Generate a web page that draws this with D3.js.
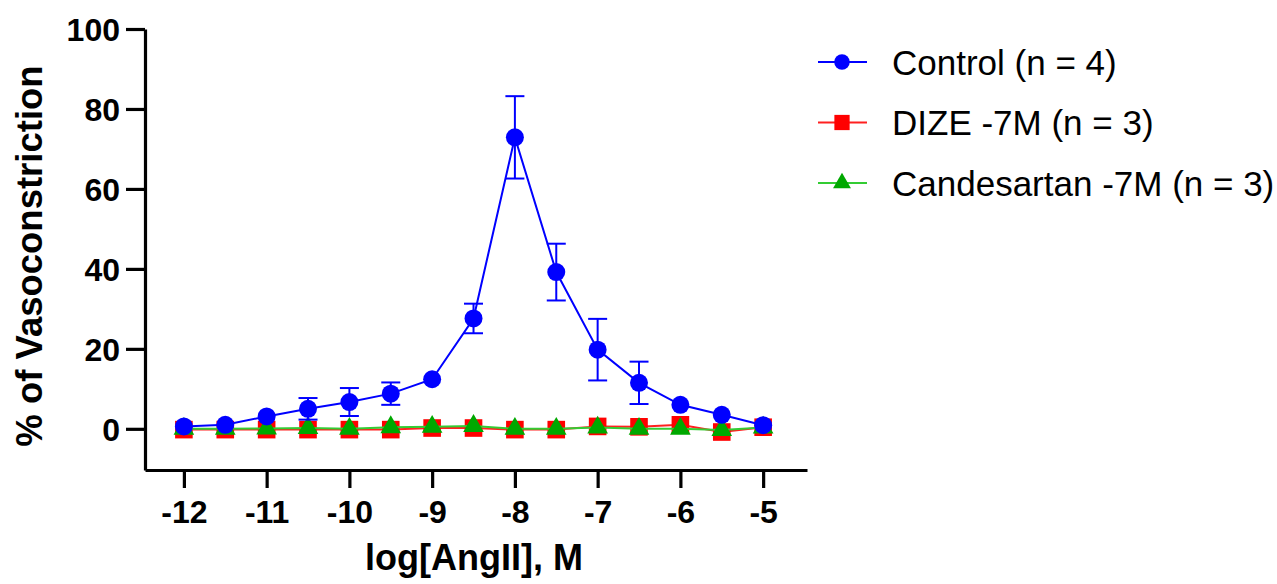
<!DOCTYPE html>
<html>
<head>
<meta charset="utf-8">
<script src="https://cdn.jsdelivr.net/npm/d3@7"></script>
<style>
  body { margin: 0; background: #fff; }
  svg { display: block; font-family: "Liberation Sans", Arial, sans-serif; }
</style>
</head>
<body>
<div id="chart"></div>
<script>
// log[AngII] concentrations
const doses = [-12, -11.5, -11, -10.5, -10, -9.5, -9, -8.5, -8, -7.5, -7, -6.5, -6, -5.5, -5];

const controlMean = [0.6, 1.0, 3.1, 5.0, 6.7, 8.8, 12.4, 27.6, 72.9, 39.2, 19.8, 11.5, 6.0, 3.5, 0.9];
const controlSem  = [0.4, 0.5, 0.6, 2.7, 3.5, 2.8, 0.8, 3.7, 10.3, 7.1, 7.7, 5.3, 0.6, 0.4, 0.3];

const dizeMean = [-0.2, -0.2, -0.2, -0.2, -0.2, -0.2, 0.2, 0.2, -0.2, -0.2, 0.6, 0.5, 1.0, -0.8, 0.4];
const candMean = [0.0, 0.0, 0.1, 0.2, 0.0, 0.4, 0.5, 0.7, 0.0, 0.0, 0.3, 0.0, 0.0, -0.3, 0.3];

const xTicks = [-12, -11, -10, -9, -8, -7, -6, -5];
const yTicks = [0, 20, 40, 60, 80, 100];

const seriesNames = ['Control (n = 4)', 'DIZE -7M (n = 3)', 'Candesartan -7M (n = 3)'];

const width = 1277, height = 584;

const svg = d3.select('#chart').append('svg')
    .attr('width', width)
    .attr('height', height);

const x = d3.scaleLinear().domain([-12.47, -4.47]).range([145, 807]);
const y = d3.scaleLinear().domain([-10.3, 100]).range([470, 29]);

// axes (hyphen minus like the original, not the d3 unicode minus)
const xAxis = svg.append('g')
    .attr('transform', `translate(0,${y(-10.3)})`)
    .call(d3.axisBottom(x).tickValues(xTicks).tickSize(18).tickPadding(12).tickSizeOuter(0)
        .tickFormat(d => String(d)));
const yAxis = svg.append('g')
    .attr('transform', `translate(${x(-12.47)},0)`)
    .call(d3.axisLeft(y).tickValues(yTicks).tickSize(19).tickPadding(6).tickSizeOuter(0)
        .tickFormat(d => String(d)));

[xAxis, yAxis].forEach(a => {
    a.select('.domain').attr('stroke', '#000').attr('stroke-width', 3.2);
    a.selectAll('.tick line').attr('stroke', '#000').attr('stroke-width', 3.2);
    a.selectAll('.tick text')
        .attr('fill', '#000')
        .style('font-size', '32px')
        .style('font-weight', 'bold')
        .style('font-family', '"Liberation Sans", Arial, sans-serif');
});
yAxis.selectAll('.tick text').attr('dy', '0.36em');

// axis titles
svg.append('text')
    .attr('x', 474).attr('y', 570)
    .attr('text-anchor', 'middle')
    .style('font-size', '36px').style('font-weight', 'bold')
    .text('log[AngII], M');

svg.append('text')
    .attr('transform', 'translate(42,256) rotate(-90)')
    .attr('text-anchor', 'middle')
    .style('font-size', '36.5px').style('font-weight', 'bold')
    .text('% of Vasoconstriction');

const line = d3.line().x(d => x(d.dose)).y(d => y(d.v));

const series = [
    { name: seriesNames[1], vals: dizeMean, line: '#ff2020', fill: '#ff0000', shape: d3.symbolSquare, size: 310 },
    { name: seriesNames[2], vals: candMean, line: '#33cc33', fill: '#00a800', shape: d3.symbolTriangle, size: 185 },
    { name: seriesNames[0], vals: controlMean, sem: controlSem, line: '#0000ff', fill: '#0000ff', shape: d3.symbolCircle, size: 254 }
];

series.forEach(s => {
    const pts = doses.map((dose, i) => ({ dose, v: s.vals[i], e: s.sem ? s.sem[i] : 0 }));
    const g = svg.append('g');
    g.append('path')
        .attr('d', line(pts))
        .attr('fill', 'none')
        .attr('stroke', s.line)
        .attr('stroke-width', 2);
    if (s.sem) {
        const eb = g.selectAll('.err').data(pts.filter(p => p.e > 1)).enter().append('g');
        eb.append('line')
            .attr('x1', d => x(d.dose)).attr('x2', d => x(d.dose))
            .attr('y1', d => y(d.v + d.e)).attr('y2', d => y(d.v - d.e))
            .attr('stroke', s.line).attr('stroke-width', 2);
        [1, -1].forEach(sign => {
            eb.append('line')
                .attr('x1', d => x(d.dose) - 9.5).attr('x2', d => x(d.dose) + 9.5)
                .attr('y1', d => y(d.v + sign * d.e)).attr('y2', d => y(d.v + sign * d.e))
                .attr('stroke', s.line).attr('stroke-width', 2);
        });
    }
    g.selectAll('.pt').data(pts).enter().append('path')
        .attr('transform', d => `translate(${x(d.dose)},${y(d.v)})`)
        .attr('d', d3.symbol().type(s.shape).size(s.size))
        .attr('fill', s.fill);
});

// legend
const legendRows = [series[2], series[0], series[1]];
const leg = svg.append('g');
legendRows.forEach((s, i) => {
    const cy = 62 + i * 60.5;
    leg.append('line')
        .attr('x1', 818).attr('x2', 867).attr('y1', cy).attr('y2', cy)
        .attr('stroke', s.line).attr('stroke-width', 2);
    leg.append('path')
        .attr('transform', `translate(842,${cy})`)
        .attr('d', d3.symbol().type(s.shape).size(s.size * 0.75))
        .attr('fill', s.fill);
    leg.append('text')
        .attr('x', 892).attr('y', cy).attr('dy', '0.36em')
        .style('font-size', '35px')
        .text(s.name);
});
</script>
</body>
</html>
